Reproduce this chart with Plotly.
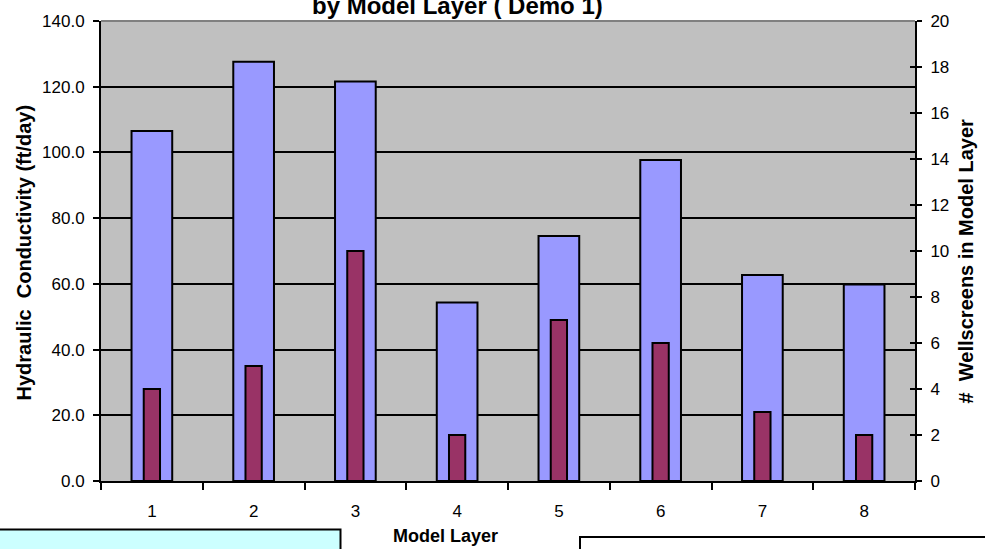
import plotly.graph_objects as go

# Model layers and the two measured quantities per layer
layers = ["1", "2", "3", "4", "5", "6", "7", "8"]
hydraulic_k = [106.5, 127.6, 121.6, 54.3, 74.6, 97.7, 62.7, 59.8]   # ft/day
wellscreens = [4, 5, 10, 2, 7, 6, 3, 2]                              # count per layer

left_ticks = [0, 20, 40, 60, 80, 100, 120, 140]
right_ticks = [0, 2, 4, 6, 8, 10, 12, 14, 16, 18, 20]

W, H = 985, 549
ML, MR, MT, MB = 101, 70, 16, 68
PW, PH = W - ML - MR, H - MT - MB

FONT = "Liberation Sans, Arial, sans-serif"


def px_x(px):
    return (px - ML) / PW


def px_y(py):
    return (H - MB - py) / PH


fig = go.Figure()

fig.add_trace(go.Bar(
    x=layers, y=hydraulic_k, yaxis="y", width=0.4,
    marker=dict(color="#9999FF", line=dict(color="black", width=2)),
    name="Hydraulic Conductivity",
))
fig.add_trace(go.Bar(
    x=layers, y=wellscreens, yaxis="y2", width=0.16,
    marker=dict(color="#993366", line=dict(color="black", width=2)),
    name="# Wellscreens",
))
# carrier for the inward half of the right-axis tick marks
fig.add_trace(go.Scatter(x=[], y=[], yaxis="y3", showlegend=False, hoverinfo="skip"))

tick_font = dict(family=FONT, size=17, color="black")
title_font = dict(family=FONT, size=18, color="black")
vtitle_font = dict(family=FONT, size=20, color="black")

fig.update_layout(
    width=W, height=H,
    margin=dict(l=ML, r=MR, t=MT, b=MB, pad=0),
    paper_bgcolor="white",
    plot_bgcolor="#C0C0C0",
    barmode="overlay",
    showlegend=False,
    xaxis=dict(
        type="category", tickson="boundaries",
        ticks="outside", ticklen=7, tickwidth=2, tickcolor="black",
        showline=True, linecolor="black", linewidth=2,
        showgrid=False, tickfont=tick_font, ticklabelstandoff=14,
        range=[-0.5, 7.5],
    ),
    yaxis=dict(
        range=[0, 140], tickvals=left_ticks, tickformat=".1f",
        ticks="outside", ticklen=6, tickwidth=2, tickcolor="black",
        showline=True, linecolor="black", linewidth=2,
        showgrid=True, gridcolor="black", gridwidth=1.5,
        zeroline=False, tickfont=tick_font, ticklabelstandoff=5,
    ),
    yaxis2=dict(
        overlaying="y", side="right", range=[0, 20], tickvals=right_ticks,
        ticks="outside", ticklen=5, tickwidth=2, tickcolor="black",
        showline=True, linecolor="black", linewidth=2,
        showgrid=False, zeroline=False, tickfont=tick_font, ticklabelstandoff=5,
    ),
    yaxis3=dict(
        overlaying="y", side="right", range=[0, 20], tickvals=right_ticks,
        ticks="inside", ticklen=5, tickwidth=2, tickcolor="black",
        showline=False, showgrid=False, zeroline=False, showticklabels=False,
    ),
)

# gray top edge of the plot area
fig.add_shape(type="line", xref="paper", yref="paper", x0=0, x1=1, y0=1, y1=1,
              line=dict(color="#808080", width=2))

# boxes along the bottom edge
fig.add_shape(type="rect", xref="paper", yref="paper",
              x0=px_x(-2), x1=px_x(340.5), y0=px_y(560), y1=px_y(530),
              fillcolor="#CCFFFF", line=dict(color="black", width=2))
fig.add_shape(type="rect", xref="paper", yref="paper",
              x0=px_x(580), x1=px_x(990), y0=px_y(560), y1=px_y(537.5),
              fillcolor="white", line=dict(color="black", width=2))

# chart title (second line)
fig.add_annotation(text="<b>by Model Layer ( Demo 1)</b>", xref="paper", yref="paper",
                   x=px_x(457.5), y=px_y(0), xanchor="center", yanchor="middle",
                   showarrow=False, font=dict(family=FONT, size=24, color="black"))

# axis titles
fig.add_annotation(text="<b>Hydraulic  Conductivity (ft/day)</b>", xref="paper", yref="paper",
                   x=px_x(24), y=px_y(250), xanchor="center", yanchor="middle",
                   textangle=-90, showarrow=False, font=vtitle_font)
fig.add_annotation(text="<b>#  Wellscreens in Model Layer</b>", xref="paper", yref="paper",
                   x=px_x(966), y=px_y(259), xanchor="center", yanchor="middle",
                   textangle=-90, showarrow=False, font=vtitle_font)
fig.add_annotation(text="<b>Model Layer</b>", xref="paper", yref="paper",
                   x=px_x(445), y=px_y(537), xanchor="center", yanchor="middle",
                   showarrow=False, font=title_font)

fig.write_html("out.html")
